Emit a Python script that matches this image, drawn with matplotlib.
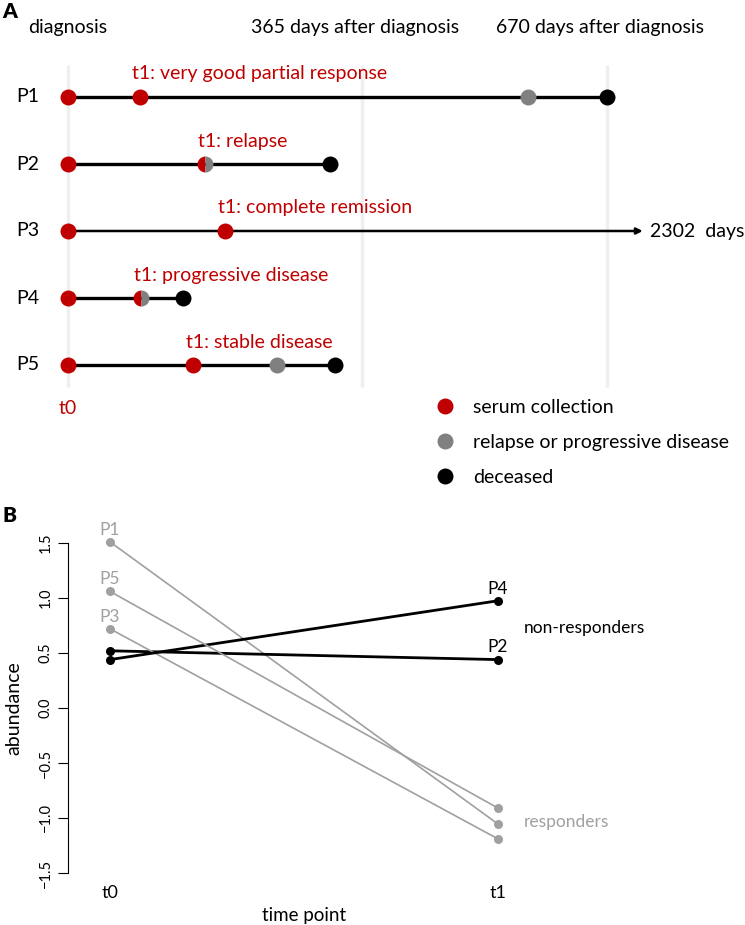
import matplotlib
matplotlib.use("Agg")
import matplotlib.pyplot as plt
from matplotlib.lines import Line2D
import numpy as np

plt.rcParams['font.family'] = ['Lato', 'DejaVu Sans']

# ---- panel A data (days after diagnosis) ----
patients = ['P1', 'P2', 'P3', 'P4', 'P5']
t1_day = [89, 170, 195, 91, 155]
relapse_day = [571, 170, None, 91, 260]
death_day = [670, 325, None, 143, 332]
followup_day = [670, 325, 714, 143, 332]   # P3 still alive, arrow
t1_status = ['very good partial response', 'relapse', 'complete remission',
             'progressive disease', 'stable disease']
grid_days = [0, 365, 670]
grid_labels = ['diagnosis', '365 days after diagnosis', '670 days after diagnosis']

# ---- panel B data ----
b_patients = ['P1', 'P2', 'P3', 'P4', 'P5']
abund_t0 = [1.51, 0.52, 0.72, 0.44, 1.06]
abund_t1 = [-1.055, 0.44, -1.19, 0.975, -0.91]
responder = [True, False, True, False, True]
time_labels = ['t0', 't1']

red = '#C00000'
gray = '#808080'
lgray = '#A0A0A0'
W, H = 745, 925
fsA = 14

fig = plt.figure(figsize=(W / 100, H / 100), dpi=100)

# ================= panel A =================
axA = fig.add_axes([0, 1 - 490 / H, 1, 490 / H])
axA.axis('off')
axA.set_xlim(-68 / 0.805, (W - 68) / 0.805)
axA.set_ylim(1 + (490 - 97) / 67, 1 - 97 / 67)

axA.vlines(grid_days, 1 + (65 - 97) / 67, 1 + (387 - 97) / 67,
           color='#EFEFEF', lw=2.5, zorder=0)
for d, lab in zip(grid_days, grid_labels):
    axA.annotate(lab, (d, 1 - 69 / 67), xytext=(-5 if d else 0, 0),
                 textcoords='offset points', ha='center', va='center',
                 fontsize=fsA)

ms = 11.5
for i, p in enumerate(patients):
    r = i + 1
    axA.text(-40 / 0.805, r, p, ha='center', va='center', fontsize=fsA)
    if death_day[i] is None:
        axA.annotate('', xy=(followup_day[i], r), xytext=(0, r),
                     arrowprops=dict(arrowstyle='-|>', lw=1.8, color='black',
                                     mutation_scale=9, shrinkA=0, shrinkB=0))
        axA.annotate('2302  days', (followup_day[i], r), xytext=(5, 0),
                     textcoords='offset points', ha='left', va='center',
                     fontsize=fsA)
    else:
        axA.plot([0, followup_day[i]], [r, r], color='black', lw=2.4, zorder=1)
    axA.plot(0, r, 'o', ms=ms, color=red, mec='none', zorder=3)
    if relapse_day[i] == t1_day[i]:
        axA.plot(t1_day[i], r, 'o', ms=ms, fillstyle='left', mfc=red,
                 mfcalt=gray, mec='none', zorder=3)
    else:
        axA.plot(t1_day[i], r, 'o', ms=ms, color=red, mec='none', zorder=3)
        if relapse_day[i] is not None:
            axA.plot(relapse_day[i], r, 'o', ms=ms, color=gray, mec='none', zorder=3)
    if death_day[i] is not None:
        axA.plot(death_day[i], r, 'o', ms=ms, color='black', mec='none', zorder=3)
    axA.text(t1_day[i] - 9, r - 23 / 67, 't1: ' + t1_status[i], color=red,
             ha='left', va='center', fontsize=fsA)

axA.text(0, 1 + (408 - 97) / 67, 't0', color=red, ha='center', va='center',
         fontsize=fsA)

handles = [Line2D([], [], ls='none', marker='o', ms=ms, color=c, mec='none')
           for c in [red, gray, 'black']]
fig.legend(handles, ['serum collection', 'relapse or progressive disease', 'deceased'],
           loc='upper left', bbox_to_anchor=(436 / W, 1 - 399 / H),
           frameon=False, fontsize=fsA, handlelength=0.9, handletextpad=1.0,
           labelspacing=0.92, borderpad=0, borderaxespad=0)

fig.text(2 / W, 1 - 11 / H, 'A', fontsize=15, fontweight='heavy', va='center')
fig.text(2 / W, 1 - 515 / H, 'B', fontsize=15, fontweight='heavy', va='center')

# ================= panel B =================
axB = fig.add_axes([68 / W, 1 - 884 / H, (540 - 68) / W, (884 - 532) / H])
axB.set_xlim(1 - 42 / 388, 1 + (540 - 110) / 388)
axB.set_ylim(-1.6, 1.6)
for i, p in enumerate(b_patients):
    c = lgray if responder[i] else 'black'
    lw = 1.2 if responder[i] else 2.0
    axB.plot([1, 2], [abund_t0[i], abund_t1[i]], color=c, lw=lw, zorder=1)
    axB.plot([1, 2], [abund_t0[i], abund_t1[i]], 'o', ms=6.5, color=c,
             mec='none', zorder=2)
    if responder[i]:
        axB.annotate(p, (1, abund_t0[i]), xytext=(0, 3), textcoords='offset points',
                     ha='center', va='bottom', color=c, fontsize=12.5,
                     annotation_clip=False)
    else:
        axB.annotate(p, (2, abund_t1[i]), xytext=(0, 3), textcoords='offset points',
                     ha='center', va='bottom', color=c, fontsize=12.5,
                     annotation_clip=False)

axB.text(2.067, 0.727, 'non-responders', ha='left', va='center', fontsize=12.5,
         clip_on=False)
axB.text(2.067, -1.036, 'responders', ha='left', va='center', fontsize=12.5,
         color=lgray, clip_on=False)

for s in ['top', 'right', 'bottom']:
    axB.spines[s].set_visible(False)
axB.spines['left'].set_bounds(-1.5, 1.5)
axB.set_yticks(np.arange(-1.5, 1.51, 0.5))
axB.tick_params(axis='y', length=7, pad=4, labelsize=10.5)
for t in axB.get_yticklabels():
    t.set_rotation(90)
    t.set_va('center')
axB.set_xticks([1, 2], time_labels)
axB.tick_params(axis='x', length=0, pad=1, labelsize=13)

fig.text(14 / W, 1 - 708 / H, 'abundance', rotation=90, ha='center',
         va='center', fontsize=14)
fig.text(304 / W, 1 - 915 / H, 'time point', ha='center', va='center',
         fontsize=13.5)

fig.savefig('out.png', dpi=100)
